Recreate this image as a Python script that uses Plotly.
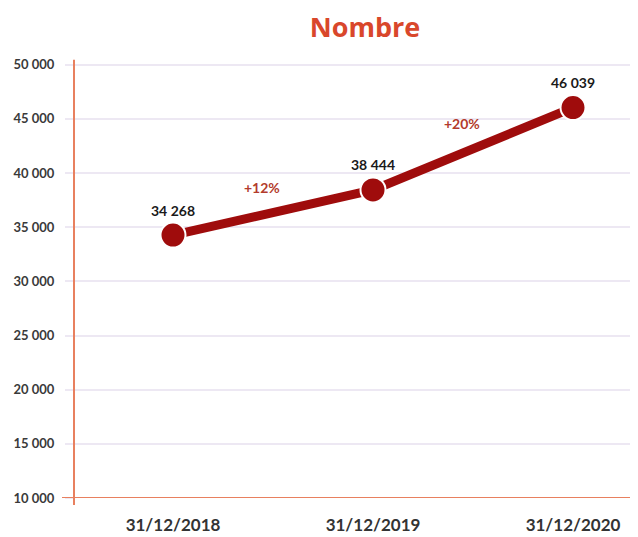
import plotly.graph_objects as go

categories = ["31/12/2018", "31/12/2019", "31/12/2020"]
values = [34268, 38444, 46039]
value_labels = ["34 268", "38 444", "46 039"]
growth_labels = ["+12%", "+20%"]
y_ticks = [10000, 15000, 20000, 25000, 30000, 35000, 40000, 45000, 50000]

xs = list(range(len(categories)))

fig = go.Figure()
fig.add_trace(go.Scatter(
    x=xs, y=values, mode="lines+markers",
    line=dict(color="#9f0c0c", width=9),
    marker=dict(size=25, color="#9f0c0c", line=dict(color="white", width=2)),
    hoverinfo="skip", showlegend=False,
))

annotations = []
for x, v, t in zip(xs, values, value_labels):
    annotations.append(dict(x=x, y=v, text="<b>" + t + "</b>", showarrow=False,
                            yshift=25, font=dict(family="Lato", size=14, color="#1a1a1a")))
for i, t in enumerate(growth_labels):
    mid_x = (xs[i] + xs[i + 1]) / 2
    mid_y = (values[i] + values[i + 1]) / 2
    annotations.append(dict(x=mid_x, y=mid_y, text="<b>" + t + "</b>", showarrow=False,
                            xshift=-11, yshift=25, font=dict(family="Lato", size=14, color="#b33b2c")))

fig.update_layout(
    width=638, height=537,
    margin=dict(l=66, r=0, t=54, b=47),
    paper_bgcolor="white", plot_bgcolor="white",
    separators=", ",
    title=dict(text="<b>Nombre</b>", x=357 / 638, xanchor="center", y=1 - 20 / 537, yanchor="middle",
               font=dict(family="Open Sans", size=27, color="#d9472b", weight="bold")),
    annotations=annotations,
    xaxis=dict(
        range=[-0.495, 2.365], tickvals=xs, ticktext=categories, automargin=False,
        showgrid=False, zeroline=False, showline=False, ticks="", ticklabelstandoff=15,
        tickfont=dict(family="Lato", size=17, color="#333333", weight="bold"),
    ),
    yaxis=dict(
        range=[10000, 50250], tickvals=y_ticks, tickformat=",d", automargin=False,
        showgrid=True, gridcolor="#ede8f3", gridwidth=2,
        zeroline=False, showline=False,
        ticks="outside", ticklen=8, tickcolor="#ede8f3", tickwidth=2, ticklabelstandoff=8,
        tickfont=dict(family="Lato", size=13, color="#3a3a3a", weight="bold"),
    ),
    shapes=[
        dict(type="line", xref="paper", yref="y", x0=-12 / 572, x1=1, y0=10000, y1=10000,
             line=dict(color="#e8805f", width=2), layer="above"),
        dict(type="line", xref="paper", yref="paper", x0=0, x1=0, y0=-7 / 436, y1=1.005,
             line=dict(color="#e8805f", width=2), layer="above"),
    ],
)

fig.write_html("out.html")
